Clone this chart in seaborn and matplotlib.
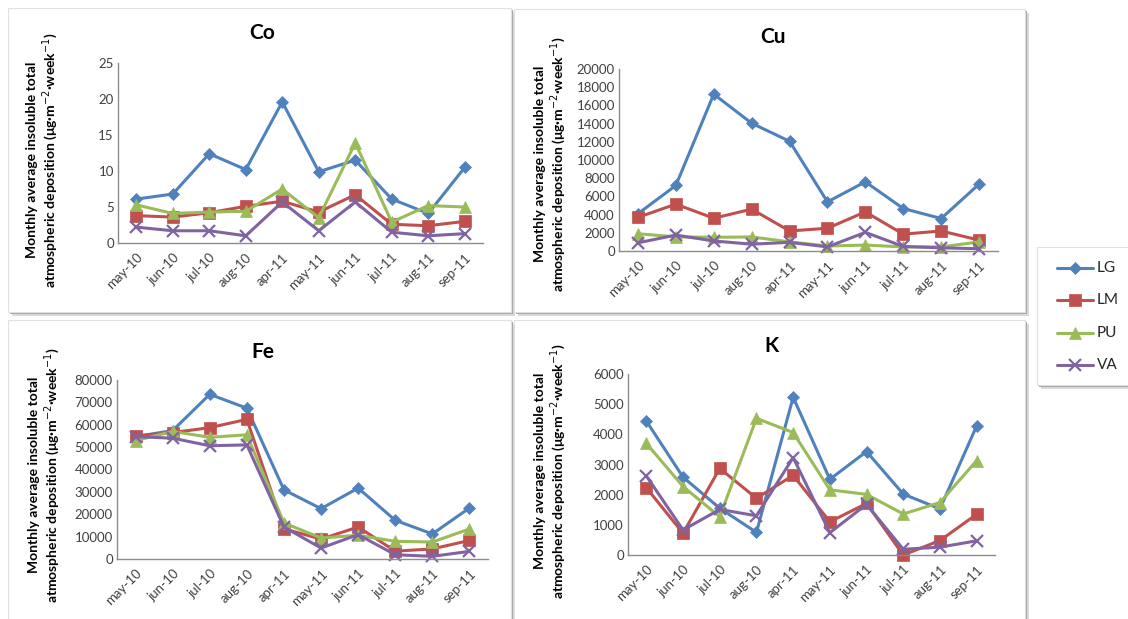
import matplotlib
matplotlib.use("Agg")
import matplotlib.pyplot as plt
from matplotlib.patches import Rectangle
from matplotlib.lines import Line2D
import seaborn as sns
import pandas as pd

sns.set_theme(style="white")
plt.rcParams["font.family"] = ["Lato", "DejaVu Sans"]

months = ["may-10", "jun-10", "jul-10", "aug-10", "apr-11",
          "may-11", "jun-11", "jul-11", "aug-11", "sep-11"]
sites = ["LG", "LM", "PU", "VA"]

co_lg = [6.1, 6.8, 12.4, 10.2, 19.6, 9.9, 11.5, 6.1, 4.1, 10.5]
co_lm = [3.8, 3.6, 4.2, 5.1, 5.8, 4.3, 6.7, 2.6, 2.4, 3.0]
co_pu = [5.3, 4.1, 4.3, 4.4, 7.5, 3.5, 13.9, 2.9, 5.2, 5.0]
co_va = [2.2, 1.7, 1.7, 1.0, 5.7, 1.7, 5.7, 1.5, 1.0, 1.3]

cu_lg = [4100, 7200, 17240, 14040, 12060, 5400, 7600, 4670, 3570, 7350]
cu_lm = [3700, 5150, 3600, 4600, 2200, 2500, 4300, 1850, 2200, 1200]
cu_pu = [1900, 1550, 1500, 1550, 1000, 550, 650, 450, 450, 1000]
cu_va = [900, 1750, 1100, 750, 950, 450, 2050, 500, 350, 250]

fe_lg = [54700, 57400, 73600, 67400, 30900, 22500, 31700, 17300, 11200, 22800]
fe_lm = [55000, 56500, 58700, 62400, 13500, 8900, 14300, 3500, 4500, 8300]
fe_pu = [52900, 57000, 54400, 55500, 16100, 9400, 10600, 7900, 7600, 13400]
fe_va = [54700, 54000, 50600, 51000, 14300, 4900, 10900, 1900, 1200, 3400]

k_lg = [4440, 2580, 1550, 750, 5230, 2510, 3430, 2020, 1530, 4280]
k_lm = [2230, 720, 2870, 1880, 2640, 1100, 1710, 0, 480, 1350]
k_pu = [3700, 2270, 1270, 4530, 4060, 2160, 2010, 1360, 1740, 3130]
k_va = [2620, 830, 1510, 1300, 3230, 740, 1680, 190, 260, 470]

panels = [
    ("Co", [co_lg, co_lm, co_pu, co_va], 25, 5),
    ("Cu", [cu_lg, cu_lm, cu_pu, cu_va], 20000, 2000),
    ("Fe", [fe_lg, fe_lm, fe_pu, fe_va], 80000, 10000),
    ("K", [k_lg, k_lm, k_pu, k_va], 6000, 1000),
]

colors = {"LG": "#4F81BD", "LM": "#C0504D", "PU": "#9BBB59", "VA": "#8064A2"}
markers = {"LG": "D", "LM": "s", "PU": "^", "VA": "x"}
msizes = {"LG": 6, "LM": 8, "PU": 8, "VA": 8}

W, H = 1128, 619
fig = plt.figure(figsize=(W / 100, H / 100), dpi=100)
fig.patch.set_facecolor("white")


def px_rect(x0, y0, x1, y1):
    return [x0 / W, 1 - y1 / H, (x1 - x0) / W, (y1 - y0) / H]


def framed_box(x0, y0, x1, y1):
    # white panel with a soft drop shadow along the lower right
    for off, col in [(4, "#D9D9D9"), (2, "#A6A6A6")]:
        fig.patches.append(Rectangle(((x0 + off) / W, 1 - (y1 + off) / H),
                                     (x1 - x0) / W, (y1 - y0) / H,
                                     transform=fig.transFigure, facecolor=col,
                                     edgecolor="none", zorder=-2))
    fig.patches.append(Rectangle((x0 / W, 1 - y1 / H), (x1 - x0) / W, (y1 - y0) / H,
                                 transform=fig.transFigure, facecolor="white",
                                 edgecolor="#E0E0E0", linewidth=0.8, zorder=-1))


for box in [(8, 8, 511, 312), (514, 9, 1025, 312),
            (8, 320, 511, 622), (514, 320, 1025, 622)]:
    framed_box(*box)
framed_box(1037, 247, 1132, 385)

axes_px = [(118, 63, 483, 243), (619, 69, 998, 251),
           (117, 380, 488, 559), (628, 374, 995, 555)]
title_px = [(262, 33), (773, 37), (263, 352), (772, 346)]
ylab_px = [(43, 160), (551, 164), (45, 475), (551, 471)]

ylabel = "Monthly average insoluble total\natmospheric deposition (μg·m$^{-2}$·week$^{-1}$)"

for (name, series, ymax, ystep), apx, tpx, lpx in zip(panels, axes_px, title_px, ylab_px):
    ax = fig.add_axes(px_rect(*apx))
    ax.set_zorder(2)
    ax.set_facecolor("none")
    for site, vals in zip(sites, series):
        df = pd.DataFrame({"month": months, "value": vals})
        sns.lineplot(data=df, x="month", y="value", ax=ax, sort=False,
                     estimator=None, color=colors[site], linewidth=2.2,
                     marker=markers[site], markersize=msizes[site],
                     markeredgewidth=1.6 if site == "VA" else 0.5,
                     markeredgecolor=colors[site], clip_on=False, label=site)
    ax.set_xlim(-0.5, len(months) - 0.5)
    ax.set_ylim(0, ymax)
    ax.set_yticks(range(0, ymax + 1, ystep))
    ax.set_xticks(range(len(months)))
    ax.set_xticklabels(months, rotation=45, ha="right", rotation_mode="anchor")
    ax.tick_params(axis="both", length=0, labelsize=9.5, labelcolor="#404040", pad=3)
    ax.tick_params(axis="x", pad=6)
    for s in ["top", "right"]:
        ax.spines[s].set_visible(False)
    for s in ["left", "bottom"]:
        ax.spines[s].set_color("#8C8C8C")
        ax.spines[s].set_linewidth(1.0)
    ax.set_xlabel("")
    ax.set_ylabel("")
    ax.get_legend().remove()
    fig.text(tpx[0] / W, 1 - tpx[1] / H, name, ha="center", va="center",
             fontsize=15, fontweight="bold", color="black", zorder=3)
    fig.text(lpx[0] / W, 1 - lpx[1] / H, ylabel, ha="center", va="center",
             rotation=90, fontsize=10, fontweight="bold", color="black",
             linespacing=1.15, multialignment="center", zorder=3)

# shared legend: sample line with marker, then the site name
for i, s in enumerate(sites):
    yy = 1 - (268 + 32.3 * i) / H
    fig.lines.append(Line2D([1057 / W, 1093 / W], [yy, yy], transform=fig.transFigure,
                            color=colors[s], linewidth=2.2, zorder=3))
    fig.lines.append(Line2D([1075 / W], [yy], transform=fig.transFigure,
                            color=colors[s], marker=markers[s], markersize=msizes[s],
                            markeredgecolor=colors[s],
                            markeredgewidth=1.6 if s == "VA" else 0.5,
                            linestyle="none", zorder=3))
    fig.text(1097 / W, yy, s, ha="left", va="center", fontsize=11,
             color="#262626", zorder=3)

fig.savefig("out.png", dpi=100, facecolor="white")
